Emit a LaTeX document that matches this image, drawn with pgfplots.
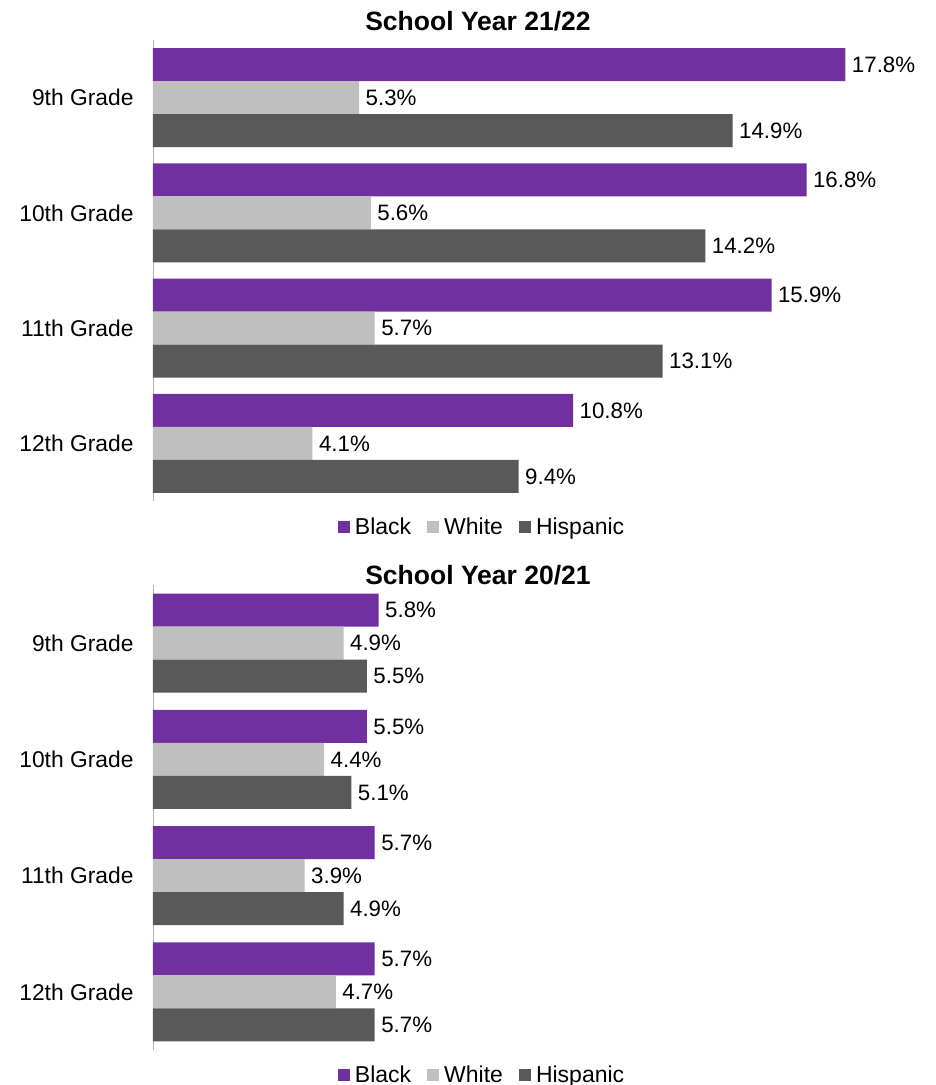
\documentclass[border=0pt]{standalone}
\usepackage{pgfplots}
\pgfplotsset{compat=1.18}
\usepackage{fontspec}
\setmainfont{Liberation Sans}
\definecolor{cBlack}{HTML}{7030A0}
\definecolor{cWhite}{HTML}{BFBFBF}
\definecolor{cHisp}{HTML}{595959}
\pgfplotsset{
  mybars/.style={
    xbar, scale only axis,
    width=778pt, xmin=0, xmax=20,
    ymin=-0.5, ymax=3.5,
    bar width=33pt,
    axis x line=none,
    axis y line*=left,
    y axis line style={draw=black!30, line width=0.8pt},
    ytick={0,1,2,3},
    yticklabels={12th Grade,11th Grade,10th Grade,9th Grade},
    major tick length=0pt,
    yticklabel style={font=\fontsize{22.8}{27}\selectfont, xshift=-16pt},
    nodes near coords={\pgfmathprintnumber[fixed,fixed zerofill,precision=1]{\pgfplotspointmeta}\%},
    /pgf/number format/assume math mode=true,
    every node near coord/.append style={font=\fontsize{22.3}{26}\selectfont, black, xshift=3pt},
    legend columns=3,
    legend style={draw=none, font=\fontsize{23}{27}\selectfont, anchor=center,
      /tikz/every odd column/.append style={column sep=3pt},
      /tikz/every even column/.append style={column sep=14pt}},
    legend image code/.code={\fill[##1,draw=none] (0pt,-6pt) rectangle (12pt,6pt);},
    clip=false,
  }
}
\begin{document}
\begin{tikzpicture}
\path[use as bounding box] (0,0) rectangle (936pt,-1085pt);
\node[font=\bfseries\fontsize{26.5}{31}\selectfont] at (478pt,-21pt) {School Year 21/22};
\node[font=\bfseries\fontsize{26.5}{31}\selectfont] at (478pt,-575pt) {School Year 20/21};
\begin{axis}[mybars, at={(153pt,-40pt)}, anchor=north west, height=461pt,
  legend style={at={(0.423,-0.056)}}]
\addplot[fill=cBlack, draw=none, bar shift=33pt] coordinates {(17.8,3) (16.8,2) (15.9,1) (10.8,0)};
\addplot[fill=cWhite, draw=none, bar shift=0pt] coordinates {(5.3,3) (5.6,2) (5.7,1) (4.1,0)};
\addplot[fill=cHisp, draw=none, bar shift=-33pt] coordinates {(14.9,3) (14.2,2) (13.1,1) (9.4,0)};
\legend{Black,White,Hispanic}
\end{axis}
\begin{axis}[mybars, at={(153pt,-585pt)}, anchor=north west, height=465pt,
  legend style={at={(0.423,-0.054)}}]
\addplot[fill=cBlack, draw=none, bar shift=33pt] coordinates {(5.8,3) (5.5,2) (5.7,1) (5.7,0)};
\addplot[fill=cWhite, draw=none, bar shift=0pt] coordinates {(4.9,3) (4.4,2) (3.9,1) (4.7,0)};
\addplot[fill=cHisp, draw=none, bar shift=-33pt] coordinates {(5.5,3) (5.1,2) (4.9,1) (5.7,0)};
\legend{Black,White,Hispanic}
\end{axis}
\end{tikzpicture}
\end{document}
